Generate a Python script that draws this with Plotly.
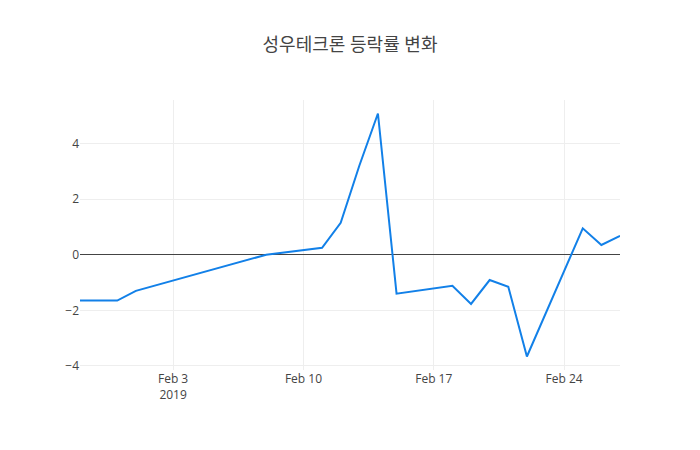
import plotly.graph_objects as go

# 성우테크론 daily change rate (%)
dates = [
    "2019-01-29", "2019-01-30", "2019-01-31", "2019-02-01", "2019-02-08",
    "2019-02-11", "2019-02-12", "2019-02-13", "2019-02-14", "2019-02-15",
    "2019-02-18", "2019-02-19", "2019-02-20", "2019-02-21", "2019-02-22",
    "2019-02-25", "2019-02-26", "2019-02-27",
]
change_rate = [
    -1.65, -1.65, -1.65, -1.30, 0.00,
    0.25, 1.15, 3.20, 5.08, -1.40,
    -1.12, -1.77, -0.91, -1.15, -3.66,
    0.95, 0.35, 0.68,
]

title_text = "성우테크론 등락률 변화"

fig = go.Figure()
fig.add_trace(go.Scatter(
    x=dates, y=change_rate, mode="lines",
    line=dict(color="rgb(18,128,232)", width=2),
))

# the page adds an 8px body margin, so the margins are shifted to compensate
fig.update_layout(
    title=dict(text=title_text, x=0.4886, xanchor="center", y=0.918, yanchor="middle",
               font=dict(size=18, color="#444")),
    width=700, height=450,
    plot_bgcolor="white", paper_bgcolor="white",
    font=dict(family="Open Sans, Noto Sans CJK KR, sans-serif", color="#444"),
    showlegend=False,
    margin=dict(l=72, r=88, t=92, b=88),
)
fig.update_xaxes(showgrid=True, gridcolor="#eee", zeroline=False, showline=False)
fig.update_yaxes(showgrid=True, gridcolor="#eee", zeroline=True,
                 zerolinecolor="#444", zerolinewidth=1, showline=False)

fig.write_html("out.html")
